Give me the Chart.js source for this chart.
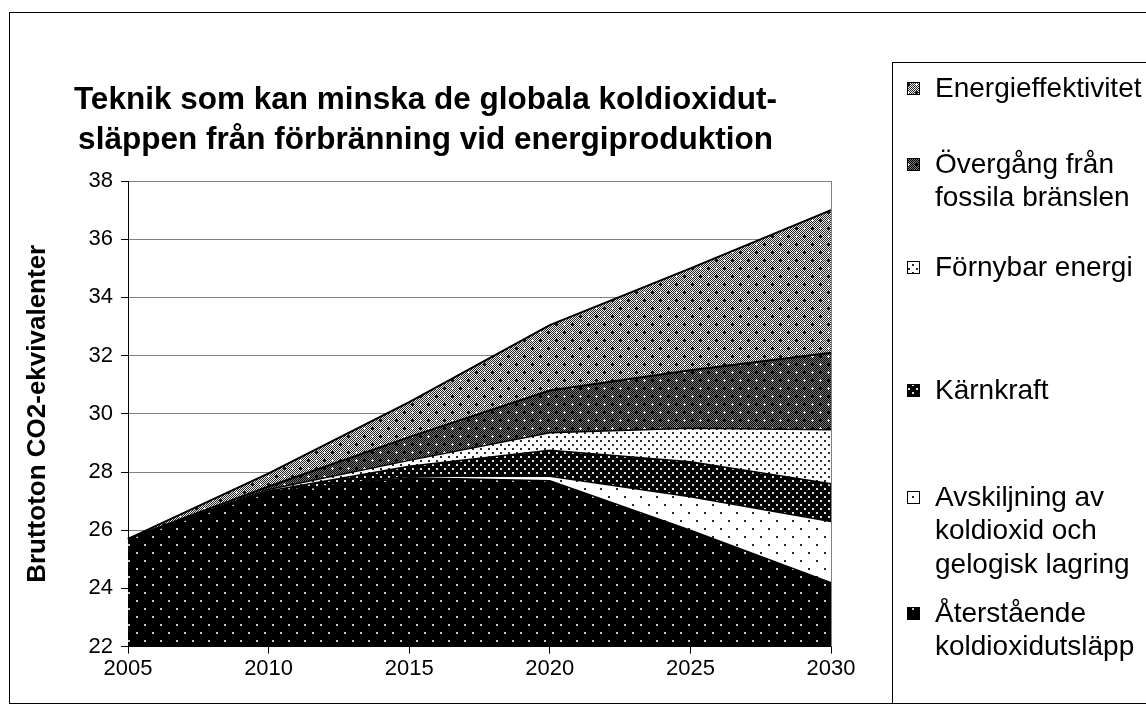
<!DOCTYPE html>
<html><head><meta charset="utf-8">
<script src="https://cdn.jsdelivr.net/npm/chart.js@4.4.1/dist/chart.umd.min.js"></script>
<style>html,body{margin:0;padding:0;background:#fff;}#wrap{position:relative;width:1146px;height:722px;}</style>
</head><body><div id="wrap"><canvas id="c" width="1146" height="722"></canvas></div>
<script>
// ---- data (cumulative top edge of each layer) ----
const years = ['2005', '2010', '2015', '2020', '2025', '2030'];
const titleLines = ['Teknik som kan minska de globala koldioxidut-', 'släppen från förbränning vid energiproduktion'];
const yAxisTitle = 'Bruttoton CO2-ekvivalenter';
const yTicks = [22, 24, 26, 28, 30, 32, 34, 36, 38];
const aterstaende = [25.7, 27.3, 27.8, 27.7, 26.0, 24.2];
const avskiljning = [25.7, 27.3, 27.85, 27.85, 27.15, 26.3];
const karnkraft   = [25.7, 27.35, 28.2, 28.75, 28.35, 27.6];
const fornybar    = [25.7, 27.4, 28.4, 29.35, 29.5, 29.45];
const overgang    = [25.7, 27.5, 29.2, 30.8, 31.5, 32.1];
const energieff   = [25.7, 27.95, 30.4, 33.05, 35.0, 37.0];
const legendAterstaende = ['Återstående', 'koldioxidutsläpp'];
const legendAvskiljning = ['Avskiljning av', 'koldioxid och', 'gelogisk lagring'];
const legendKarnkraft = ['Kärnkraft'];
const legendFornybar = ['Förnybar energi'];
const legendOvergang = ['Övergång från', 'fossila bränslen'];
const legendEnergieff = ['Energieffektivitet'];

// ---- pattern fills (16px tiles) ----
const canvas = document.getElementById('c');
const mainCtx = canvas.getContext('2d');
function makePattern(fn) {
  const N = 16;
  const c = document.createElement('canvas'); c.width = N; c.height = N;
  const g = c.getContext('2d');
  const img = g.createImageData(N, N);
  for (let y = 0; y < N; y++) for (let x = 0; x < N; x++) {
    const v = fn(x, y);
    const i = (y * N + x) * 4;
    img.data[i] = img.data[i + 1] = img.data[i + 2] = v; img.data[i + 3] = 255;
  }
  g.putImageData(img, 0, 0);
  return mainCtx.createPattern(c, 'repeat');
}
function md(x, y, cx, cy) { return Math.abs(x - cx) + Math.abs(y - cy); }
function nearA(x, y) { return Math.min(md(x, y, 4, 4), md(x, y, 12, 12)); }
function nearB(x, y) { return Math.min(md(x, y, 12, 4), md(x, y, 4, 12)); }
const checker = (x, y) => (x + y) % 2 === 0;

const sparse = (x, y) => ((x < 2 && y < 2) || (x >= 8 && x < 10 && y >= 8 && y < 10));
const pAter = makePattern((x, y) => sparse(x, y) ? 200 : 0);
const pAvsk = makePattern((x, y) => sparse(x, y) ? 40 : 255);
const dot8 = (x, y) => ((x % 8 < 2 && y % 8 < 2) || (x % 8 >= 4 && x % 8 < 6 && y % 8 >= 4 && y % 8 < 6));
const pFornybar = makePattern((x, y) => dot8(x, y) ? 40 : 255);
const pKarn = makePattern((x, y) => dot8(x, y) ? 225 : 0);
const pOver = makePattern((x, y) => {
  if (nearA(x, y) <= 2) return 0;
  if (nearB(x, y) <= 1) return 235;
  return checker(x, y) ? 0 : 120;
});
const pEnergi = makePattern((x, y) => {
  if (nearA(x, y) <= 1) return 255;
  if (nearB(x, y) <= 1) return 20;
  return checker(x, y) ? 40 : 235;
});

const FONT = "'Liberation Sans', Arial, sans-serif";
const legendFirstY = [88, 164, 267, 390, 497, 613];

const frames = {
  id: 'frames',
  beforeDraw(chart) {
    const ctx = chart.ctx;
    ctx.save();
    ctx.fillStyle = '#fff';
    ctx.fillRect(0, 0, chart.width, chart.height);
    ctx.restore();
  },
  afterDatasetsDraw(chart) {
    const ctx = chart.ctx, a = chart.chartArea;
    ctx.save();
    ctx.strokeStyle = '#808080'; ctx.lineWidth = 1;
    ctx.beginPath();
    ctx.moveTo(Math.round(a.right) + 0.5, a.top);
    ctx.lineTo(Math.round(a.right) + 0.5, a.bottom);
    ctx.stroke();
    ctx.restore();
  },
  afterDraw(chart) {
    const ctx = chart.ctx;
    ctx.save();
    ctx.strokeStyle = '#000'; ctx.lineWidth = 1;
    ctx.strokeRect(9.5, 12.5, 1200, 691);
    ctx.fillStyle = '#fff';
    ctx.fillRect(893, 63, 260, 640);
    ctx.strokeRect(892.5, 62.5, 300, 641);
    const ds = chart.data.datasets;
    const n = ds.length;
    ctx.font = '28px ' + FONT;
    ctx.textBaseline = 'middle';
    for (let k = 0; k < n; k++) {
      const d = ds[n - 1 - k];
      const y0 = legendFirstY[k];
      ctx.fillStyle = d.backgroundColor;
      ctx.fillRect(907, y0 - 6, 13, 13);
      ctx.strokeStyle = '#000';
      ctx.strokeRect(907.5, y0 - 5.5, 12, 12);
      ctx.fillStyle = '#000';
      d.legendLines.forEach((t, j) => ctx.fillText(t, 935, y0 + 1 + j * 33.5));
    }
    ctx.restore();
  }
};

function layer(lines, data, bg, fill, bw) {
  return { label: lines.join(' '), legendLines: lines, data, backgroundColor: bg, borderColor: '#000',
    borderWidth: bw, pointRadius: 0, tension: 0, fill };
}

new Chart(canvas, {
  type: 'line',
  data: {
    labels: years,
    datasets: [
      layer(legendAterstaende, aterstaende, pAter, 'start', 1.5),
      layer(legendAvskiljning, avskiljning, pAvsk, '-1', 1.5),
      layer(legendKarnkraft, karnkraft, pKarn, '-1', 1.5),
      layer(legendFornybar, fornybar, pFornybar, '-1', 1.5),
      layer(legendOvergang, overgang, pOver, '-1', 2),
      layer(legendEnergieff, energieff, pEnergi, '-1', 2)
    ]
  },
  options: {
    responsive: false, animation: false, devicePixelRatio: 1,
    layout: { padding: { left: 20, right: 315, top: 60, bottom: 38 } },
    plugins: {
      legend: { display: false },
      tooltip: { enabled: false },
      title: { display: true, text: titleLines, color: '#000',
        font: { family: FONT, size: 31.5, weight: 'bold', lineHeight: 1.27 },
        padding: { top: 20, bottom: 21 } }
    },
    scales: {
      x: {
        type: 'category', offset: false,
        grid: { display: true, drawOnChartArea: false, drawTicks: true, tickLength: 7, tickColor: '#000' },
        border: { display: true, color: '#000', width: 1 },
        ticks: { color: '#000', font: { family: FONT, size: 22 }, padding: 2, maxRotation: 0, autoSkip: false }
      },
      y: {
        min: 22, max: 38,
        afterBuildTicks: s => { s.ticks = yTicks.map(v => ({ value: v })); },
        afterFit: s => { s.width = 108; },
        grid: { color: '#808080', lineWidth: 1, drawTicks: true, tickLength: 7, tickColor: '#000' },
        border: { display: true, color: '#000', width: 1 },
        ticks: { color: '#000', font: { family: FONT, size: 22 }, padding: 8 },
        title: { display: true, text: yAxisTitle, color: '#000', font: { family: FONT, size: 26, weight: 'bold' }, padding: { top: 2 } }
      }
    }
  },
  plugins: [frames]
});
</script></body></html>
